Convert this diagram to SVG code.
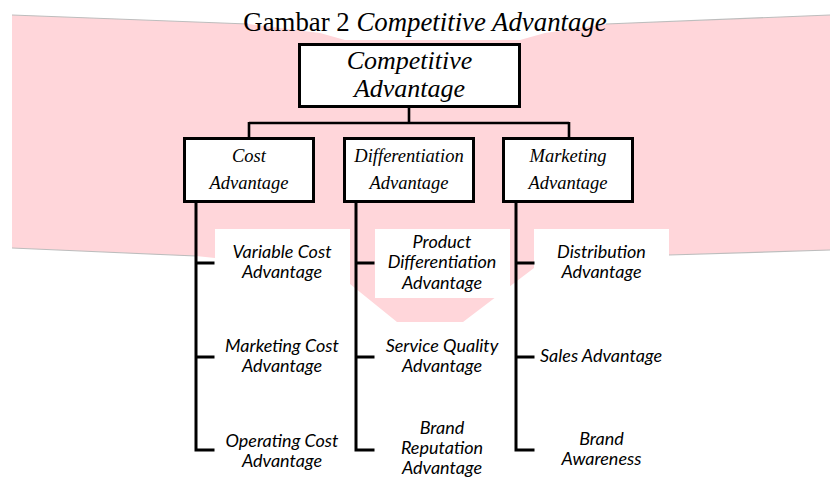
<svg xmlns="http://www.w3.org/2000/svg" width="830" height="477" viewBox="0 0 830 477">
<style>
.box{fill:#fff;stroke:#000;stroke-width:3}
.serif{font-family:"Liberation Serif","Times New Roman",serif;font-style:italic;fill:#000;text-anchor:middle}
.sub{font-family:Lato,"Liberation Sans",sans-serif;font-style:italic;font-size:18px;fill:#000;text-anchor:middle}
.conn{fill:none;stroke:#000;stroke-width:3;stroke-linecap:square}
.bus{fill:none;stroke:#000;stroke-width:2.6}
.shadow{fill:none;stroke:#bdbdbd;stroke-width:1.2}
</style>
<rect width="830" height="477" fill="#fff"/>
<g id="watermark">
<polygon fill="#ffd6da" points="12,15 248,24 320,33 345,40 520,40 545,33 606,24 830,15 830,250 669,255 534,268 463,322 397,322 350,284 215,258 196,256 12,248"/>
<polyline class="shadow" points="12,15 248,24"/>
<polyline class="shadow" points="606,24 830,15"/>
<polyline class="shadow" points="12,248 196,256"/>
<polyline class="shadow" points="669,255 830,250"/>
<rect x="215" y="229" width="135" height="62" fill="#fff"/>
<rect x="375" y="229" width="135" height="69" fill="#fff"/>
<rect x="534" y="229" width="135" height="50" fill="#fff"/>
</g>
<text id="title" x="425" y="31" font-family="Liberation Serif,Times New Roman,serif" font-size="26.8" text-anchor="middle" fill="#000">Gambar 2 <tspan font-style="italic">Competitive Advantage</tspan></text>
<g id="connectors">
<path class="bus" d="M409,108 V123 M249,123 H569 M249,122 V137 M569,122 V137"/>
<path class="conn" d="M196,204 V450 M196,263 H213 M196,357 H213 M196,450 H213"/>
<path class="conn" d="M356,204 V450 M356,263 H373 M356,357 H373 M356,450 H373"/>
<path class="conn" d="M516,204 V450 M516,263 H533 M516,357 H533 M516,450 H533"/>
</g>
<g id="competitive-advantage">
<rect class="box" x="299.5" y="44.5" width="220" height="62"/>
<text class="serif" font-size="26" x="409.5" y="69">Competitive</text>
<text class="serif" font-size="26" x="409.5" y="97">Advantage</text>
</g>
<g id="cost-advantage">
<rect class="box" x="184.5" y="138.5" width="129" height="63"/>
<text class="serif" font-size="18.5" x="249" y="162">Cost</text>
<text class="serif" font-size="18.5" x="249" y="189">Advantage</text>
</g>
<g id="differentiation-advantage">
<rect class="box" x="344.5" y="138.5" width="129" height="63"/>
<text class="serif" font-size="18.5" x="409" y="162">Differentiation</text>
<text class="serif" font-size="18.5" x="409" y="189">Advantage</text>
</g>
<g id="marketing-advantage">
<rect class="box" x="503.5" y="138.5" width="129" height="63"/>
<text class="serif" font-size="18.5" x="568" y="162">Marketing</text>
<text class="serif" font-size="18.5" x="568" y="189">Advantage</text>
</g>
<g id="variable-cost">
<text class="sub" x="282" y="258">Variable Cost</text>
<text class="sub" x="282" y="278">Advantage</text>
</g>
<g id="marketing-cost">
<text class="sub" x="282" y="352">Marketing Cost</text>
<text class="sub" x="282" y="372">Advantage</text>
</g>
<g id="operating-cost">
<text class="sub" x="282" y="446.5">Operating Cost</text>
<text class="sub" x="282" y="466.5">Advantage</text>
</g>
<g id="product-differentiation">
<text class="sub" x="442" y="247.5">Product</text>
<text class="sub" x="442" y="268">Differentiation</text>
<text class="sub" x="442" y="288.5">Advantage</text>
</g>
<g id="service-quality">
<text class="sub" x="442" y="352">Service Quality</text>
<text class="sub" x="442" y="372">Advantage</text>
</g>
<g id="brand-reputation">
<text class="sub" x="442" y="434">Brand</text>
<text class="sub" x="442" y="454">Reputation</text>
<text class="sub" x="442" y="474">Advantage</text>
</g>
<g id="distribution">
<text class="sub" x="601.5" y="258">Distribution</text>
<text class="sub" x="601.5" y="278">Advantage</text>
</g>
<g id="sales">
<text class="sub" x="601" y="362">Sales Advantage</text>
</g>
<g id="brand-awareness">
<text class="sub" x="601.5" y="445">Brand</text>
<text class="sub" x="601.5" y="465">Awareness</text>
</g>
</svg>
